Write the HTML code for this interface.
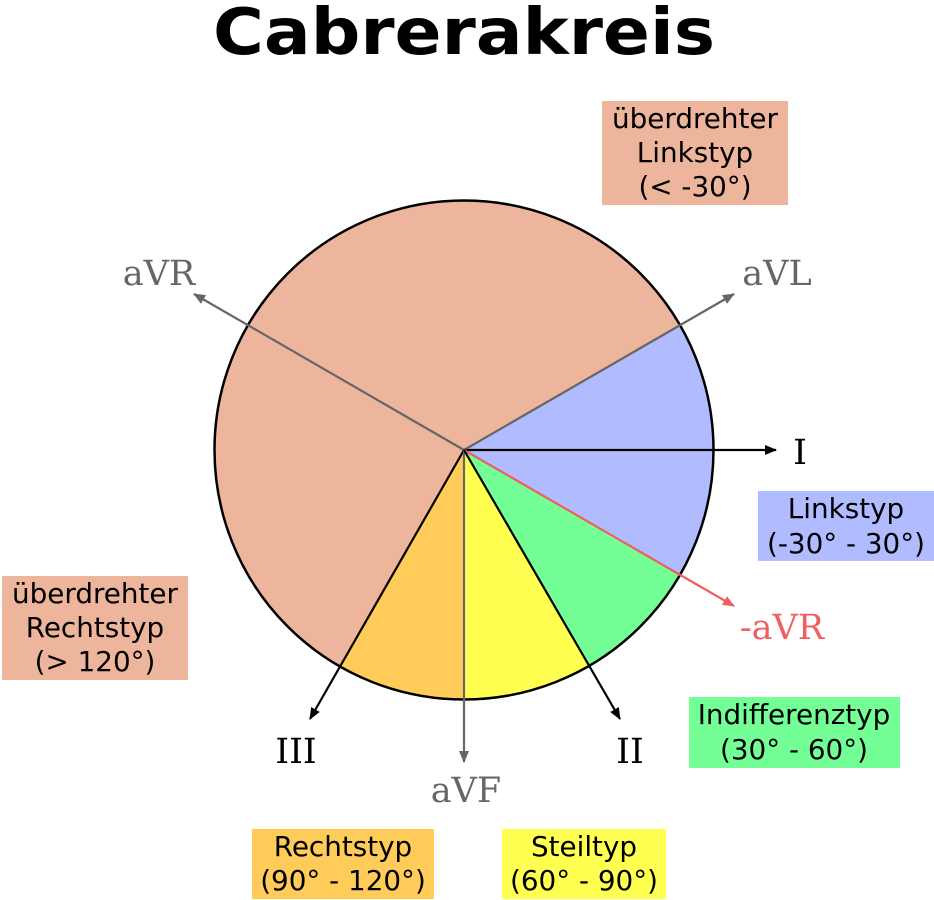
<!DOCTYPE html>
<html><head><style>body{margin:0;background:#fff}svg{display:block}</style></head><body>
<svg width="934" height="900" xmlns="http://www.w3.org/2000/svg">
<defs>
<marker id="ab" markerWidth="12" markerHeight="10" refX="11" refY="5" orient="auto" markerUnits="userSpaceOnUse"><path d="M0,0L12,5L0,10z" fill="#000"/></marker>
<marker id="ag" markerWidth="12" markerHeight="10" refX="11" refY="5" orient="auto" markerUnits="userSpaceOnUse"><path d="M0,0L12,5L0,10z" fill="#666"/></marker>
<marker id="ar" markerWidth="12" markerHeight="10" refX="11" refY="5" orient="auto" markerUnits="userSpaceOnUse"><path d="M0,0L12,5L0,10z" fill="#ef5f5f"/></marker>
</defs>
<text x="464" y="54" text-anchor="middle" font-family="DejaVu Sans, Liberation Sans, sans-serif" font-weight="bold" font-size="64" textLength="502" lengthAdjust="spacingAndGlyphs">Cabrerakreis</text>
<circle cx="464" cy="450" r="249.5" fill="#edb59c"/>
<path d="M464,450L680.1,325.25A249.5,249.5 0 0 1 680.1,574.75z" fill="#b0bcff"/>
<path d="M464,450L680.1,574.75A249.5,249.5 0 0 1 588.75,666.1z" fill="#73ff96"/>
<path d="M464,450L588.75,666.1A249.5,249.5 0 0 1 464,699.5z" fill="#ffff52"/>
<path d="M464,450L464,699.5A249.5,249.5 0 0 1 339.25,666.1z" fill="#ffcc5a"/>
<circle cx="464" cy="450" r="249.5" fill="none" stroke="#000" stroke-width="2.5"/>
<g stroke-width="2.2" fill="none">
<line x1="464" y1="450" x2="194" y2="294" stroke="#666" marker-end="url(#ag)"/>
<line x1="464" y1="450" x2="734" y2="294" stroke="#666" marker-end="url(#ag)"/>
<line x1="464" y1="450" x2="776" y2="450" stroke="#000" marker-end="url(#ab)"/>
<line x1="464" y1="450" x2="734" y2="606" stroke="#ef5f5f" marker-end="url(#ar)"/>
<line x1="464" y1="450" x2="310" y2="719" stroke="#000" marker-end="url(#ab)"/>
<line x1="464" y1="450" x2="464" y2="762" stroke="#666" marker-end="url(#ag)"/>
<line x1="464" y1="450" x2="620" y2="719" stroke="#000" marker-end="url(#ab)"/>
</g>
<g font-family="DejaVu Serif, Liberation Serif, serif" font-size="35">
<text x="159" y="285" text-anchor="middle" fill="#666">aVR</text>
<text x="777" y="285" text-anchor="middle" fill="#666">aVL</text>
<text x="800" y="464" text-anchor="middle" fill="#000">I</text>
<text x="782" y="639" text-anchor="middle" fill="#ef5f5f">-aVR</text>
<text x="296" y="763" text-anchor="middle" fill="#000">III</text>
<text x="630" y="763" text-anchor="middle" fill="#000">II</text>
<text x="466" y="802" text-anchor="middle" fill="#666">aVF</text>
</g>
<g><rect x="602" y="101" width="186" height="104" fill="#edb59c"/>
<rect x="758" y="491" width="176" height="70" fill="#b0bcff"/>
<rect x="689" y="697" width="211" height="71" fill="#73ff96"/>
<rect x="502" y="829" width="164" height="70" fill="#ffff52"/>
<rect x="252" y="829" width="182" height="70" fill="#ffcc5a"/>
<rect x="2" y="576" width="186" height="104" fill="#edb59c"/></g>
<g font-family="DejaVu Sans, Liberation Sans, sans-serif" font-size="27.8" text-anchor="middle" fill="#000">
<text x="695" y="128">überdrehter</text><text x="695" y="162">Linkstyp</text><text x="695" y="196">(&lt; -30°)</text>
<text x="846" y="518">Linkstyp</text><text x="846" y="553">(-30° - 30°)</text>
<text x="794" y="724">Indifferenztyp</text><text x="794" y="759">(30° - 60°)</text>
<text x="584" y="856">Steiltyp</text><text x="584" y="890">(60° - 90°)</text>
<text x="343" y="856">Rechtstyp</text><text x="343" y="890">(90° - 120°)</text>
<text x="95" y="603">überdrehter</text><text x="95" y="637">Rechtstyp</text><text x="95" y="671">(&gt; 120°)</text>
</g>
</svg>
</body></html>
